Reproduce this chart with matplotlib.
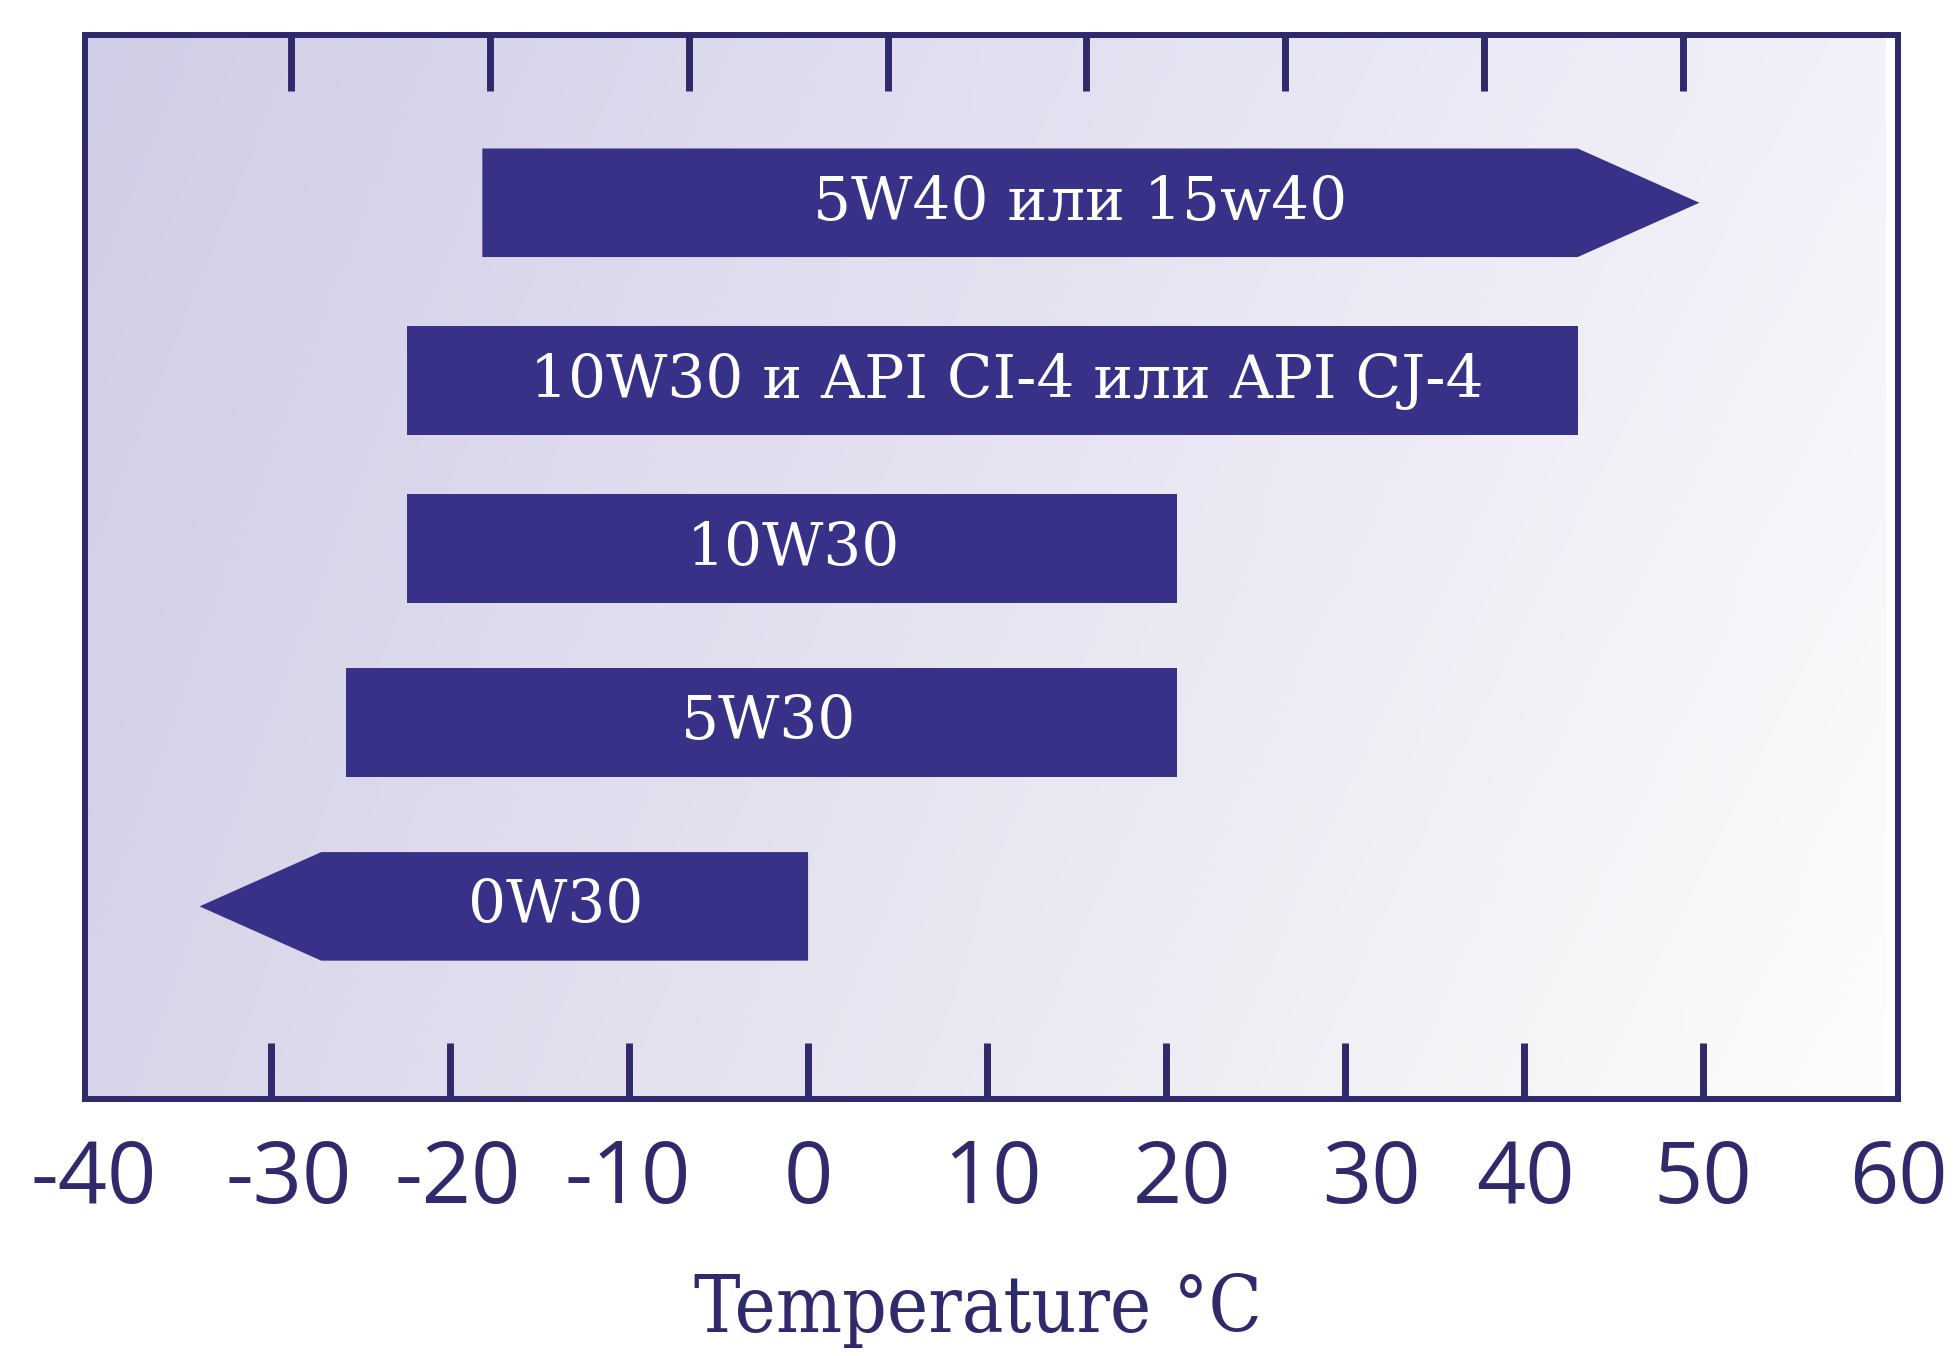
import matplotlib
matplotlib.use("Agg")
import matplotlib.pyplot as plt
from matplotlib.patches import Polygon
import numpy as np

# oil grades and their temperature ranges (deg C)
labels = ["5W40 или 15w40", "10W30 и API CI-4 или API CJ-4", "10W30", "5W30", "0W30"]
starts = [-18.2, -22.4, -22.4, -25.8, -27.2]
ends = [43.0, 43.0, 20.6, 20.6, 0.0]
tips = [49.8, None, None, None, -34.0]  # arrow tip, None = plain bar

c_ticks = [-30, -20, -10, 0, 10, 20, 30, 40, 50]
f_ticks = [-20, 0, 20, 40, 60, 80, 100, 120]
tick_labels = ["-40", "-30", "-20", "-10", "0", "10", "20", "30", "40", "50", "60"]
label_pos = [-39.9, -29.0, -19.6, -10.1, 0.0, 10.3, 20.9, 31.5, 40.1, 50.0, 60.9]

# layout
rows = [8.42, 6.75, 5.17, 3.54, 1.81]
bar_h = 1.02
text_x = [15.2, 11.1, -0.8, -2.2, -14.1]
navy = "#2e2a6c"
bar_color = "#383188"

fig = plt.figure(figsize=(19.58, 13.56), dpi=100)
ax = fig.add_axes([0.0434, 0.1895, 0.926, 0.785])
ax.set_xlim(-40.4, 60.2)
ax.set_ylim(0, 10)

# background: colours of the four corners blended across the panel
tl = np.array([208, 205, 230]) / 255
tr = np.array([242, 241, 250]) / 255
bl = np.array([216, 213, 234]) / 255
br = np.array([253, 253, 251]) / 255
u = np.linspace(0, 1, 400)[None, :, None]
v = np.linspace(0, 1, 250)[:, None, None]
bg = (1 - v) * ((1 - u) * tl + u * tr) + v * ((1 - u) * bl + u * br)
ax.imshow(bg, extent=(-40.4, 60.2, 0, 10), aspect="auto", origin="upper", zorder=0)

for lab, s, e, t, y, tx in zip(labels, starts, ends, tips, rows, text_x):
    lo, hi = y - bar_h / 2, y + bar_h / 2
    if t is None:
        pts = [(s, lo), (e, lo), (e, hi), (s, hi)]
    elif t > e:
        pts = [(s, lo), (e, lo), (t, y), (e, hi), (s, hi)]
    else:
        pts = [(s, lo), (e, lo), (e, hi), (s, hi), (t, y)]
    ax.add_patch(Polygon(pts, closed=True, facecolor=bar_color, edgecolor="none", zorder=2))
    ax.text(tx, y, lab, color="white", ha="center", va="center", fontsize=43,
            family="DejaVu Serif", zorder=3)

for sp in ax.spines.values():
    sp.set_linewidth(4.3)
    sp.set_color(navy)

ax.set_yticks([])
ax.xaxis.remove_overlapping_locs = False
ax.set_xticks(c_ticks, minor=True)
ax.set_xticks(label_pos)
ax.set_xticklabels(tick_labels, family="Open Sans", fontsize=62, color=navy)
ax.tick_params(axis="x", which="major", length=0, pad=28)
ax.tick_params(axis="x", which="minor", direction="in", length=40, width=5, color=navy)

# fahrenheit ticks along the top
sec = ax.secondary_xaxis("top", functions=(lambda c: c * 9 / 5 + 32, lambda f: (f - 32) * 5 / 9))
sec.set_xticks(f_ticks)
sec.tick_params(direction="in", length=40, width=5, color=navy, labeltop=False)
sec.spines["top"].set_linewidth(4.3)
sec.spines["top"].set_color(navy)

fig.text(0.4995, 0.0175, "Temperature °C", ha="center", va="baseline", fontsize=56,
         family="DejaVu Serif", fontstretch="condensed", color=navy)

fig.savefig("out.png", dpi=100)
